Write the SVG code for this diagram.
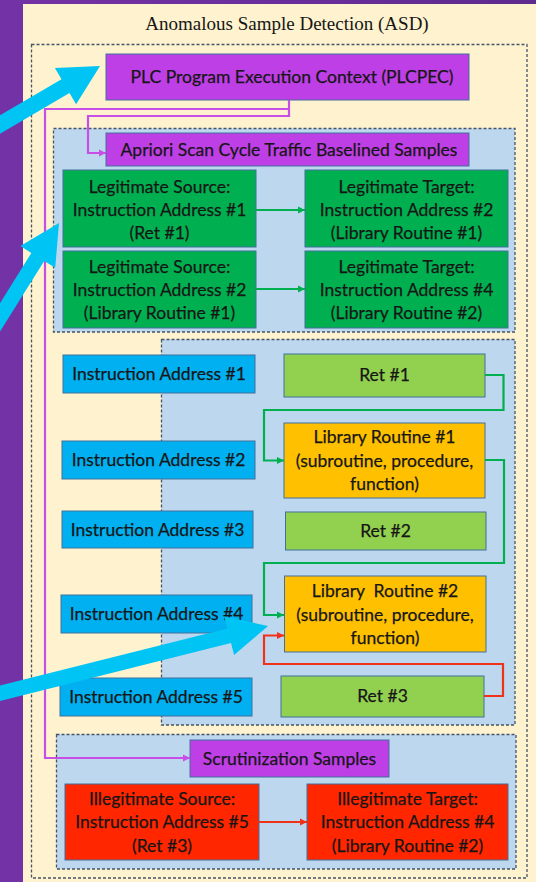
<svg xmlns="http://www.w3.org/2000/svg" width="536" height="882" viewBox="0 0 536 882">
  <defs>
    <linearGradient id="slideBg" x1="0" y1="0" x2="1" y2="0">
      <stop offset="0" stop-color="#7333a6"/>
      <stop offset="0.5" stop-color="#6a2e9c"/>
      <stop offset="1" stop-color="#5e2a8e"/>
    </linearGradient>
    <marker id="headGreen" markerUnits="userSpaceOnUse" markerWidth="8" markerHeight="8" refX="7" refY="4" orient="auto">
      <path d="M0,0.5 L7,4 L0,7.5 z" fill="#00b050"/>
    </marker>
    <marker id="headRed" markerUnits="userSpaceOnUse" markerWidth="8" markerHeight="8" refX="7" refY="4" orient="auto">
      <path d="M0,0.5 L7,4 L0,7.5 z" fill="#f0321a"/>
    </marker>
    <marker id="headPurple" markerUnits="userSpaceOnUse" markerWidth="8" markerHeight="8" refX="7" refY="4" orient="auto">
      <path d="M0,0.5 L7,4 L0,7.5 z" fill="#c84ee8"/>
    </marker>
  </defs>
  <style>
    .box { stroke: #41719c; stroke-width: 1; }
    .purple { fill: #bf3fe6; }
    .green { fill: #00b050; }
    .lime { fill: #92d050; }
    .orange { fill: #ffc000; }
    .blue { fill: #00b0f0; }
    .red { fill: #ff2600; }
    .region { fill: #bdd7ee; stroke: #44546a; stroke-width: 1.3; stroke-dasharray: 3 2; }
    .outer { fill: none; stroke: #44546a; stroke-width: 1.3; stroke-dasharray: 3 2; }
    text { font-family: Lato, "Liberation Sans", sans-serif; font-size: 17.5px; fill: #161616; stroke: #161616; stroke-width: 0.25; text-anchor: middle; }
    .title { font-family: "Liberation Serif", "Times New Roman", serif; font-size: 19px; stroke: none; }
    .conn { fill: none; stroke-width: 2.2; }
    .cg { stroke: #00b050; marker-end: url(#headGreen); }
    .cr { stroke: #f0321a; marker-end: url(#headRed); }
    .cp { stroke: #c84ee8; marker-end: url(#headPurple); }
    .pointer { fill: #00c4f4; }
  </style>

  <!-- slide background and canvas -->
  <rect x="0" y="0" width="536" height="882" fill="url(#slideBg)"/>
  <rect x="23" y="4" width="513" height="878" fill="#fef2cf"/>

  <text class="title" x="287" y="30">Anomalous Sample Detection (ASD)</text>

  <!-- grouping regions -->
  <g id="regions">
    <rect class="outer" x="31.5" y="44.5" width="495.5" height="833.5"/>
    <rect class="region" x="53.5" y="128.5" width="461.5" height="203.5"/>
    <rect class="region" x="161.5" y="339.5" width="353.5" height="385.5"/>
    <rect class="region" x="56.5" y="734.5" width="459.5" height="134.5"/>
  </g>

  <!-- execution context -->
  <g id="plcpec">
    <rect class="box purple" x="106" y="54" width="363" height="46"/>
    <text x="292" y="83">PLC Program Execution Context (PLCPEC)</text>
  </g>

  <!-- baselined samples -->
  <g id="apriori">
    <rect class="box purple" x="106" y="133" width="363" height="33"/>
    <text x="289" y="155.5">Apriori Scan Cycle Traffic Baselined Samples</text>
  </g>
  <g id="legit-source-1">
    <rect class="box green" x="63" y="170" width="193" height="77"/>
    <text x="159.5" y="192.5">Legitimate Source:</text>
    <text x="159.5" y="215.5">Instruction Address #1</text>
    <text x="159.5" y="238.5">(Ret #1)</text>
  </g>
  <g id="legit-target-1">
    <rect class="box green" x="305" y="170" width="203" height="77"/>
    <text x="406.5" y="192.5">Legitimate Target:</text>
    <text x="406.5" y="215.5">Instruction Address #2</text>
    <text x="406.5" y="238.5">(Library Routine #1)</text>
  </g>
  <g id="legit-source-2">
    <rect class="box green" x="63" y="251" width="193" height="77"/>
    <text x="159.5" y="272.5">Legitimate Source:</text>
    <text x="159.5" y="295.5">Instruction Address #2</text>
    <text x="159.5" y="318.5">(Library Routine #1)</text>
  </g>
  <g id="legit-target-2">
    <rect class="box green" x="305" y="251" width="203" height="77"/>
    <text x="406.5" y="272.5">Legitimate Target:</text>
    <text x="406.5" y="295.5">Instruction Address #4</text>
    <text x="406.5" y="318.5">(Library Routine #2)</text>
  </g>

  <!-- instruction addresses -->
  <g id="ia1">
    <rect class="box blue" x="63" y="355" width="192" height="38"/>
    <text x="159" y="380">Instruction Address #1</text>
  </g>
  <g id="ia2">
    <rect class="box blue" x="62" y="441" width="193" height="38"/>
    <text x="158.5" y="466">Instruction Address #2</text>
  </g>
  <g id="ia3">
    <rect class="box blue" x="62" y="511" width="191" height="37"/>
    <text x="157.5" y="535.5">Instruction Address #3</text>
  </g>
  <g id="ia4">
    <rect class="box blue" x="61" y="595" width="191" height="38"/>
    <text x="156.5" y="620">Instruction Address #4</text>
  </g>
  <g id="ia5">
    <rect class="box blue" x="60" y="678" width="192" height="38"/>
    <text x="156" y="703">Instruction Address #5</text>
  </g>

  <!-- code blocks -->
  <g id="ret1">
    <rect class="box lime" x="284" y="354" width="201" height="43"/>
    <text x="384.5" y="381">Ret #1</text>
  </g>
  <g id="lib1">
    <rect class="box orange" x="284" y="423" width="201" height="75"/>
    <text x="384.5" y="443">Library Routine #1</text>
    <text x="384.5" y="466.5">(subroutine, procedure,</text>
    <text x="384.5" y="490">function)</text>
  </g>
  <g id="ret2">
    <rect class="box lime" x="285.5" y="512" width="200.5" height="38"/>
    <text x="385.5" y="536.5">Ret #2</text>
  </g>
  <g id="lib2">
    <rect class="box orange" x="284.5" y="576" width="201.5" height="76"/>
    <text x="385" y="597" xml:space="preserve">Library  Routine #2</text>
    <text x="385" y="620.5">(subroutine, procedure,</text>
    <text x="385" y="644">function)</text>
  </g>
  <g id="ret3">
    <rect class="box lime" x="281" y="676" width="203" height="41"/>
    <text x="382.5" y="702">Ret #3</text>
  </g>

  <!-- scrutinized samples -->
  <g id="scrutinization">
    <rect class="box purple" x="190" y="740" width="199" height="37"/>
    <text x="289.5" y="764.5">Scrutinization Samples</text>
  </g>
  <g id="illegit-source">
    <rect class="box red" x="65" y="784" width="194" height="76"/>
    <text x="162" y="805">Illegitimate Source:</text>
    <text x="162" y="828">Instruction Address #5</text>
    <text x="162" y="852">(Ret #3)</text>
  </g>
  <g id="illegit-target">
    <rect class="box red" x="307" y="784" width="201" height="76"/>
    <text x="407.5" y="805">Illegitimate Target:</text>
    <text x="407.5" y="828">Instruction Address #4</text>
    <text x="407.5" y="852">(Library Routine #2)</text>
  </g>

  <!-- connectors -->
  <g id="connectors">
    <path class="conn cp" d="M289,100 V116 H88 V153 H106"/>
    <path class="conn cp" d="M289,109 H45 V758 H190"/>
    <path class="conn cg" d="M256,210 H305"/>
    <path class="conn cg" d="M256,289 H305"/>
    <path class="conn cg" d="M485,375 H503.5 V410 H264 V460.5 H284"/>
    <path class="conn cg" d="M485,460 H504 V563 H264 V615 H284"/>
    <path class="conn cr" d="M484,696 H503 V664 H264 V635.5 H284"/>
    <path class="conn cr" d="M259,822 H307"/>
  </g>

  <!-- callout pointers -->
  <g id="pointers">
    <polygon class="pointer" points="100,66 76.1,104.3 69.5,93.1 -16.8,143.6 -24.8,129.8 61.5,79.3 54.9,68.1"/>
    <polygon class="pointer" points="59,223 55.2,267.8 44.2,260.9 -35.3,388.1 -48.1,380.1 31.4,252.9 20.4,246"/>
    <polygon class="pointer" points="268,626 234.1,655.1 231,643 -21.2,706.2 -24.8,691.6 227.4,628.4 224.3,616.3"/>
  </g>
</svg>
